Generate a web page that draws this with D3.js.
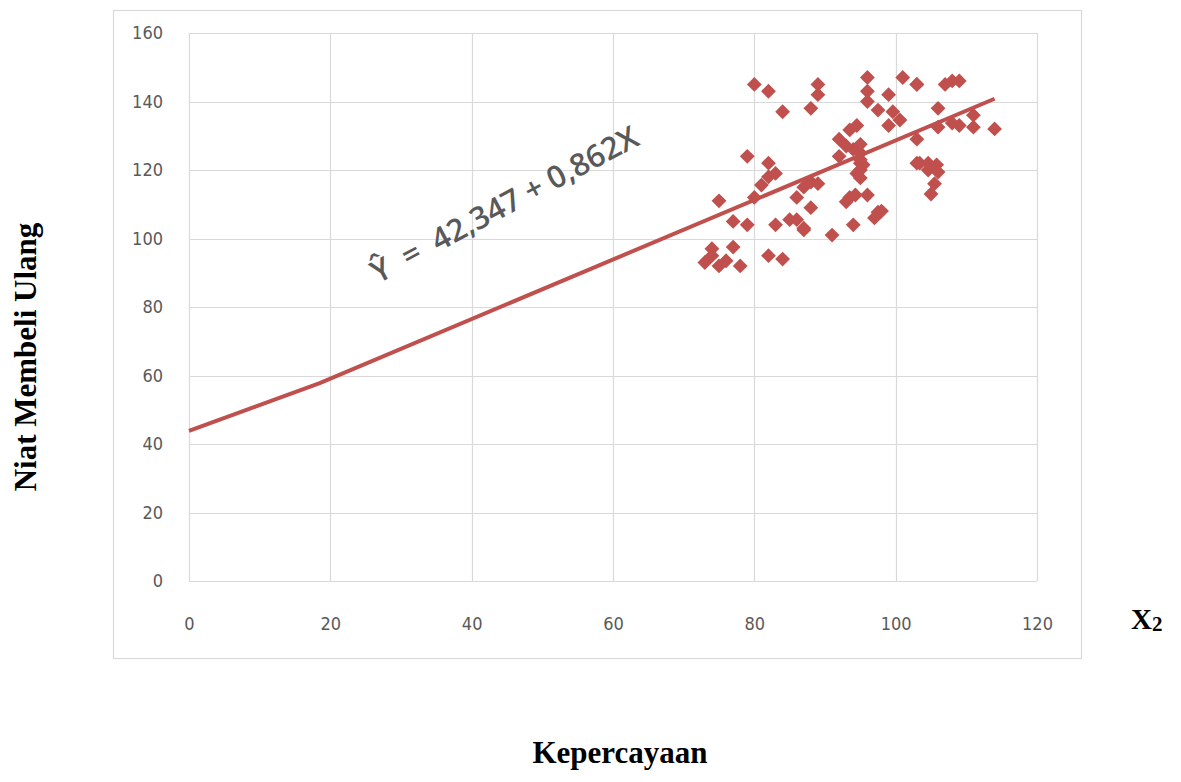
<!DOCTYPE html>
<html>
<head>
<meta charset="utf-8">
<script src="https://cdn.jsdelivr.net/npm/d3@7"></script>
<style>
  body { margin: 0; background: #fff; }
  svg { display: block; }
</style>
</head>
<body>
<svg></svg>
<script>
const width = 1181;
const height = 782;

// kepercayaan (x) vs niat membeli ulang (y)
const xVals = [80, 82, 84, 79, 82, 75, 77, 79, 74, 73, 75, 77, 78, 82, 84, 83, 85, 86, 87, 81, 82, 83, 86,
  89, 89, 88, 96, 96, 99, 96, 97.5, 101, 103, 99.6, 100.6, 99, 94.5, 93.5, 92, 94, 95, 92, 95, 95.4, 103, 103,
  103, 107, 108, 109, 106, 106, 108, 109, 111, 111, 114, 103.4, 104.6, 105.8, 104.6, 105.5, 105, 106,
  94.5, 95, 88, 87, 89, 93.5, 93, 94.3, 96, 88, 97.5, 97, 98, 94, 91, 87, 93, 95, 95, 95, 74, 76, 80];
const yVals = [145, 143, 137, 124, 122, 111, 105, 104, 97, 93, 92, 97.5, 92, 95, 94, 104, 105.5, 105.5, 103, 115.6, 118, 119, 112,
  145, 142, 138, 147, 143, 142, 140, 137.5, 147, 145, 137, 134.6, 133, 133, 131.7, 129, 126, 125, 124, 122, 121.5, 129, 122,
  145, 145, 146, 146, 138, 132.5, 133.7, 133, 136, 132.5, 132, 122, 122, 121.5, 120, 116, 113, 119.4,
  119, 117.7, 116.5, 115, 116, 112, 110.7, 112.7, 112.7, 109, 107.7, 106, 108, 104, 101, 102.5, 127, 127.5, 123, 120, 95, 93.5, 112];

// trend line as drawn in the source (slight bend near x = 18)
const lineX = [0, 18.5, 114];
const lineY = [43.8, 57.8, 140.8];

const xTicks = [0, 20, 40, 60, 80, 100, 120];
const yTicks = [0, 20, 40, 60, 80, 100, 120, 140, 160];

const equation = "\u0176  =  42,347 + 0,862X";
const yTitle = "Niat Membeli Ulang";
const xTitle = "Kepercayaan";

const red = "#c0504d";
const grid = "#d9d9d9";
const tickFont = "'Liberation Sans Narrow', 'DejaVu Sans Condensed', 'Roboto', sans-serif";
const titleFont = "'Liberation Serif', 'Times New Roman', serif";

let svg = d3.select("svg").attr("width", width).attr("height", height);

const plot = { left: 189, right: 1037, top: 33, bottom: 581 };

const x = d3.scaleLinear().domain([0, 120]).range([plot.left, plot.right]);
const y = d3.scaleLinear().domain([0, 160]).range([plot.bottom, plot.top]);

// chart frame
svg.append("rect")
  .attr("x", 113.5).attr("y", 10.5)
  .attr("width", 968).attr("height", 648)
  .attr("fill", "#fff").attr("stroke", grid).attr("stroke-width", 1.2);

// gridlines
svg.append("g").selectAll("line").data(yTicks).join("line")
  .attr("x1", plot.left).attr("x2", plot.right)
  .attr("y1", d => Math.round(y(d)) + 0.5).attr("y2", d => Math.round(y(d)) + 0.5)
  .attr("stroke", grid).attr("stroke-width", 1.2);

svg.append("g").selectAll("line").data(xTicks).join("line")
  .attr("y1", plot.top).attr("y2", plot.bottom)
  .attr("x1", d => Math.round(x(d)) + 0.5).attr("x2", d => Math.round(x(d)) + 0.5)
  .attr("stroke", grid).attr("stroke-width", 1.2);

// axes (labels only, lines come from grid)
const xAxis = svg.append("g")
  .attr("transform", `translate(0,${plot.bottom})`)
  .call(d3.axisBottom(x).tickValues(xTicks).tickSize(0).tickPadding(36));
const yAxis = svg.append("g")
  .attr("transform", `translate(${plot.left},0)`)
  .call(d3.axisLeft(y).tickValues(yTicks).tickSize(0).tickPadding(26));

[xAxis, yAxis].forEach(a => {
  a.select(".domain").remove();
  a.selectAll("text")
    .attr("fill", "#595959")
    .style("font-family", tickFont)
    .style("font-size", "18px");
});

// points
const pts = xVals.map((v, i) => ({ x: v, y: yVals[i] }));
svg.append("g").selectAll("path").data(pts).join("path")
  .attr("d", d3.symbol().type(d3.symbolDiamond2).size(140))
  .attr("transform", d => `translate(${x(d.x)},${y(d.y)})`)
  .attr("fill", red);

// trend line
const lineData = lineX.map((v, i) => [v, lineY[i]]);
svg.append("path")
  .attr("d", d3.line().x(d => x(d[0])).y(d => y(d[1]))(lineData))
  .attr("fill", "none")
  .attr("stroke", red)
  .attr("stroke-width", 4);

// regression equation
svg.append("text")
  .attr("transform", "translate(378,284) rotate(-28)")
  .attr("fill", "#595959")
  .style("white-space", "pre")
  .style("font-family", "'Open Sans', 'DejaVu Sans', sans-serif")
  .style("font-size", "31px")
  .style("font-weight", "600")
  .text(equation);

// axis titles
svg.append("text")
  .attr("transform", "translate(36,357) rotate(-90)")
  .attr("text-anchor", "middle")
  .style("font-family", titleFont)
  .style("font-size", "31px")
  .style("font-weight", "bold")
  .text(yTitle);

svg.append("text")
  .attr("x", 620).attr("y", 763)
  .attr("text-anchor", "middle")
  .style("font-family", titleFont)
  .style("font-size", "31px")
  .style("font-weight", "bold")
  .text(xTitle);

const x2 = svg.append("text")
  .attr("x", 1131).attr("y", 629)
  .style("font-family", titleFont)
  .style("font-size", "29px")
  .style("font-weight", "bold");
x2.append("tspan").text("X");
x2.append("tspan").attr("dy", 2).style("font-size", "21px").text("2");
</script>
</body>
</html>
